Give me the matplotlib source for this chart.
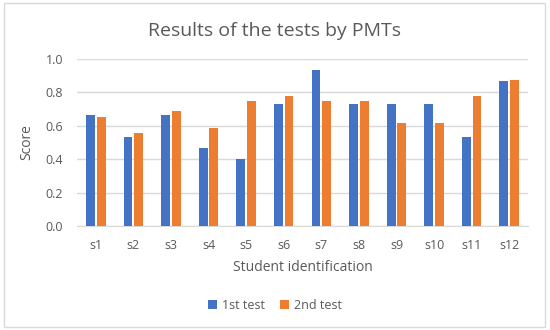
import matplotlib
matplotlib.use("Agg")
import matplotlib.pyplot as plt
import numpy as np
from matplotlib.patches import Rectangle

plt.rcParams['font.family'] = ['Open Sans', 'DejaVu Sans']

students = ["s1", "s2", "s3", "s4", "s5", "s6", "s7", "s8", "s9", "s10", "s11", "s12"]
test1 = [0.667, 0.533, 0.667, 0.467, 0.400, 0.733, 0.933, 0.733, 0.733, 0.733, 0.533, 0.867]
test2 = [0.655, 0.560, 0.690, 0.590, 0.750, 0.780, 0.750, 0.750, 0.620, 0.620, 0.780, 0.875]
yticks = [0.0, 0.2, 0.4, 0.6, 0.8, 1.0]

fig = plt.figure(figsize=(5.5, 3.3), dpi=100)
ax = fig.add_axes([0.14, 0.315, 0.82, 0.506])

x = np.arange(len(students))
w = 0.235
ax.bar(x - w/2 - 0.025, test1, width=w, color="#4472C4", label="1st test", zorder=3)
ax.bar(x + w/2 + 0.025, test2, width=w, color="#ED7D31", label="2nd test", zorder=3)

ax.set_xlim(-0.5, len(students) - 0.5)
ax.set_ylim(0, 1.0)
ax.set_yticks(yticks)
ax.set_yticklabels([f"{v:.1f}" for v in yticks])
ax.set_xticks(x)
ax.set_xticklabels(students)
ax.grid(axis="y", color="#D9D9D9", linewidth=1, zorder=0)
for s in ["top", "right", "left"]:
    ax.spines[s].set_visible(False)
ax.spines["bottom"].set_color("#D9D9D9")
ax.tick_params(axis="both", length=0, colors="#595959", labelsize=9)
ax.tick_params(axis="y", pad=10)
ax.tick_params(axis="x", pad=9)
ax.set_ylabel("Score", color="#595959", fontsize=10, labelpad=8)
ax.set_xlabel("Student identification", color="#595959", fontsize=10, labelpad=6)

fig.text(0.5, 0.905, "Results of the tests by PMTs", ha="center", va="center",
         fontsize=14, color="#595959")

fig.legend(loc="center", bbox_to_anchor=(0.5, 0.075), ncol=2, frameon=False,
           fontsize=9, handlelength=0.7, handleheight=0.7, handletextpad=0.4,
           columnspacing=1.2, labelcolor="#595959")

fig.patches.append(Rectangle((0.008, 0.01), 0.983, 0.98, transform=fig.transFigure,
                             fill=False, edgecolor="#D9D9D9", linewidth=1))

fig.savefig("out.png", dpi=100, facecolor="white")
